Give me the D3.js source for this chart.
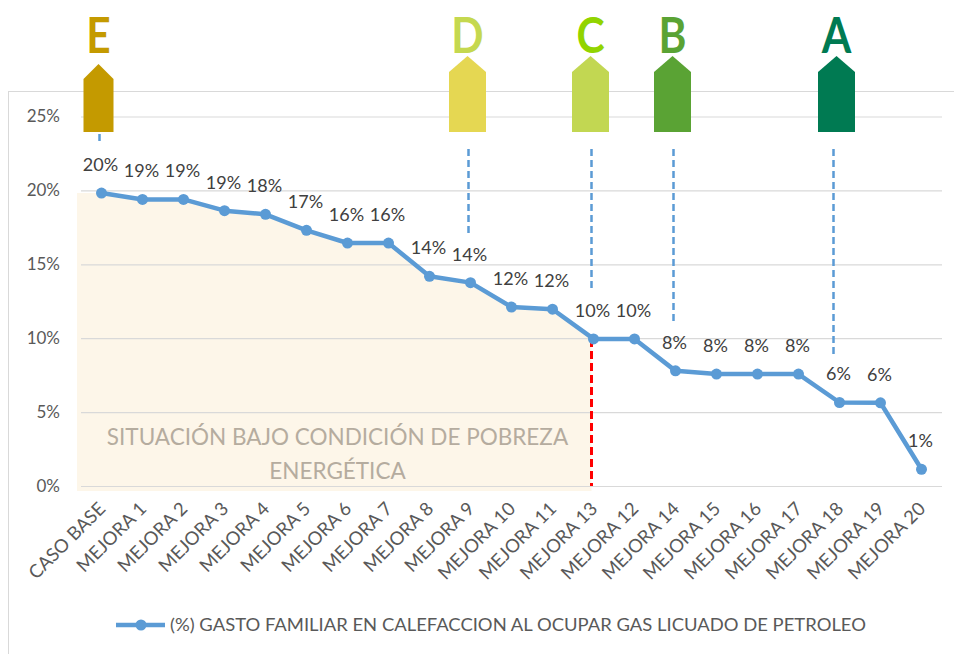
<!DOCTYPE html>
<html>
<head>
<meta charset="utf-8">
<script src="https://cdn.jsdelivr.net/npm/d3@7"></script>
<style>
  body { margin: 0; background: #fff; }
  svg { display: block; font-family: Lato, "Noto Sans", sans-serif; }
</style>
</head>
<body>
<div id="chart"></div>
<script>
// Categories along the x axis (order as in the chart)
const categories = ["CASO BASE", "MEJORA 1", "MEJORA 2", "MEJORA 3", "MEJORA 4", "MEJORA 5",
  "MEJORA 6", "MEJORA 7", "MEJORA 8", "MEJORA 9", "MEJORA 10", "MEJORA 11", "MEJORA 13",
  "MEJORA 12", "MEJORA 14", "MEJORA 15", "MEJORA 16", "MEJORA 17", "MEJORA 18", "MEJORA 19", "MEJORA 20"];

// (%) gasto familiar en calefaccion
const gasto = [0.1982, 0.1939, 0.1939, 0.1863, 0.1838, 0.1730, 0.1644, 0.1644, 0.1419, 0.1376,
  0.1211, 0.1196, 0.0995, 0.0995, 0.0779, 0.0757, 0.0757, 0.0757, 0.0565, 0.0563, 0.0113];

const yTicks = [0, 0.05, 0.10, 0.15, 0.20, 0.25];

// energy rating markers
const ratings = ["E", "D", "C", "B", "A"];
const ratingAt = ["CASO BASE", "MEJORA 9", "MEJORA 13", "MEJORA 14", "MEJORA 18"];
const letterColors = ["#C49A00", "#C5D84F", "#92D400", "#5AA334", "#007A52"];
const arrowColors = ["#C49A00", "#E5D752", "#C2D752", "#5AA334", "#007A52"];

// last category still in energy poverty
const povertyEnd = "MEJORA 13";
const povertyText = ["SITUACIÓN BAJO CONDICIÓN DE POBREZA", "ENERGÉTICA"];
const legendText = "(%) GASTO FAMILIAR EN CALEFACCION AL OCUPAR GAS LICUADO DE PETROLEO";

const width = 954, height = 654;
const blue = "#5B9BD5";

const svg = d3.select("#chart").append("svg")
  .attr("width", width)
  .attr("height", height);

// outer chart border
svg.append("rect")
  .attr("x", 8.5).attr("y", 91.5)
  .attr("width", 1000).attr("height", 1000)
  .attr("fill", "none")
  .attr("stroke", "#D9D9D9");

const x = d3.scalePoint()
  .domain(categories)
  .range([81, 942])
  .padding(0.5);

const y = d3.scaleLinear()
  .domain([0, 0.25])
  .range([486, 116.5]);

// shaded poverty area (behind everything)
const endIdx = categories.indexOf(povertyEnd);
const areaData = gasto.slice(0, endIdx + 1).map((v, i) => [x(categories[i]), y(v)]);
areaData.unshift([x(categories[0]) - 24.5, y(gasto[0])]);
areaData[areaData.length - 1][0] -= 2;
svg.append("path")
  .datum(areaData)
  .attr("fill", "#FDF6E9")
  .attr("d", d3.area().x(d => d[0]).y0(y(0) + 5).y1(d => d[1]));

// grid + y axis
const yAxis = svg.append("g")
  .attr("transform", `translate(${x.range()[0]},0)`)
  .call(d3.axisLeft(y)
    .tickValues(yTicks)
    .tickSize(-(x.range()[1] - x.range()[0]))
    .tickPadding(21)
    .tickFormat(d3.format(".0%")));
yAxis.select(".domain").remove();
yAxis.selectAll(".tick line").attr("stroke", "#D9D9D9").attr("stroke-width", 1.2);
yAxis.selectAll(".tick text")
  .attr("fill", "#595959")
  .style("font-size", "17px")
  .style("font-family", "Lato, sans-serif");

// poverty label
svg.append("g").selectAll("text")
  .data(povertyText)
  .join("text")
  .attr("x", (x(categories[0]) + x(povertyEnd)) / 2 - 10)
  .attr("y", (d, i) => y(0.028) + i * 34)
  .attr("text-anchor", "middle")
  .attr("fill", "#B5AC9F")
  .style("font-size", "22.5px")
  .text(d => d);

// red dashed limit
svg.append("line")
  .attr("x1", x(povertyEnd) - 2).attr("x2", x(povertyEnd) - 2)
  .attr("y1", y(gasto[endIdx])).attr("y2", y(0))
  .attr("stroke", "#FF0000")
  .attr("stroke-width", 3)
  .attr("stroke-dasharray", "8,4");

// rating arrows, letters and dashed guides
const rating = svg.append("g").selectAll("g")
  .data(ratings)
  .join("g")
  .attr("transform", (d, i) => `translate(${x(ratingAt[i]) - 3},0)`);

rating.append("path")
  .attr("fill", (d, i) => arrowColors[i])
  .attr("d", (d, i) => {
    const w = i === 0 ? 15 : 18.5;
    const tip = i === 0 ? 64 : 56, sh = i === 0 ? 79 : 72;
    return `M${-w},${sh}L0,${tip}L${w},${sh}L${w},132L${-w},132Z`;
  });

rating.append("text")
  .attr("text-anchor", "middle")
  .attr("transform", "translate(0,53) scale(0.85,1)")
  .attr("fill", (d, i) => letterColors[i])
  .style("font-size", "50px")
  .style("font-weight", "bold")
  .text(d => d);

rating.append("line")
  .attr("x1", (d, i) => i === 4 ? -3 : 1).attr("x2", (d, i) => i === 4 ? -3 : 1)
  .attr("y1", (d, i) => i === 0 ? 134 : 149)
  .attr("y2", (d, i) => y(gasto[categories.indexOf(ratingAt[i])]) - 48)
  .attr("stroke", blue)
  .attr("stroke-width", 2.5)
  .attr("stroke-dasharray", "7,4");

// data line
svg.append("path")
  .datum(gasto)
  .attr("fill", "none")
  .attr("stroke", blue)
  .attr("stroke-width", 4.5)
  .attr("stroke-linejoin", "round")
  .attr("d", d3.line().x((d, i) => x(categories[i])).y(d => y(d)));

svg.append("g").selectAll("circle")
  .data(gasto)
  .join("circle")
  .attr("cx", (d, i) => x(categories[i]))
  .attr("cy", d => y(d))
  .attr("r", 5.5)
  .attr("fill", blue);

// data labels
svg.append("g").selectAll("text")
  .data(gasto)
  .join("text")
  .attr("x", (d, i) => x(categories[i]) - 1)
  .attr("y", d => y(d) - 22)
  .attr("text-anchor", "middle")
  .attr("fill", "#404040")
  .style("font-size", "18px")
  .text(d => d3.format(".0%")(d));

// x axis labels (rotated)
svg.append("g").selectAll("text")
  .data(categories)
  .join("text")
  .attr("transform", d => `translate(${x(d) + 5},510) rotate(-45)`)
  .attr("text-anchor", "end")
  .attr("fill", "#595959")
  .style("font-size", "18.5px")
  .text(d => d);

// legend
const legend = svg.append("g").attr("transform", "translate(0,625)");
legend.append("line")
  .attr("x1", 116).attr("x2", 165)
  .attr("stroke", blue).attr("stroke-width", 4.5);
legend.append("circle")
  .attr("cx", 141).attr("r", 5.5).attr("fill", blue);
legend.append("text")
  .attr("x", 170)
  .attr("dy", "0.36em")
  .attr("fill", "#595959")
  .attr("textLength", 696)
  .attr("lengthAdjust", "spacingAndGlyphs")
  .style("font-size", "18px")
  .text(legendText);
</script>
</body>
</html>
